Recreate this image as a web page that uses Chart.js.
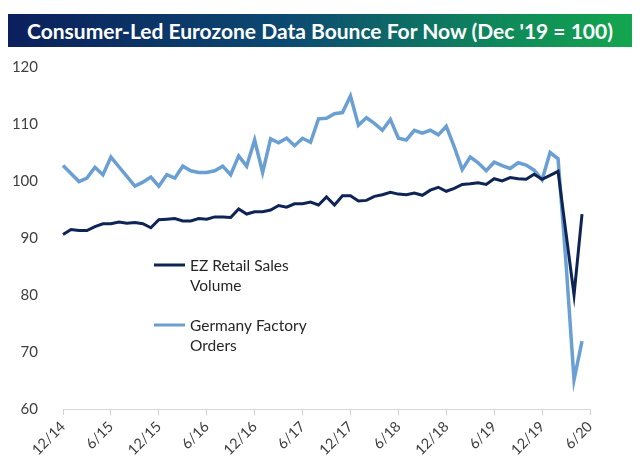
<!DOCTYPE html>
<html>
<head>
<meta charset="utf-8">
<script src="https://cdn.jsdelivr.net/npm/chart.js@4.4.1/dist/chart.umd.min.js"></script>
<style>
    body { margin: 0; background: #fff; width: 640px; height: 467px; overflow: hidden; position: relative; }
    #banner {
        position: absolute; left: 8px; top: 14px; width: 624px; height: 33px;
        background: linear-gradient(to right, #0b1f5c 0%, #0c4a72 45%, #0f8a5a 80%, #13a64e 100%);
        color: #fff; font-family: Lato, sans-serif; font-weight: bold; font-size: 21px;
        line-height: 33px; text-align: center; white-space: nowrap;
    }
    #holder { position: absolute; left: 0; top: 50px; width: 640px; height: 417px; }
</style>
</head>
<body>
<div id="banner">Consumer-Led Eurozone Data Bounce For Now (Dec '19 = 100)</div>
<div id="holder"><canvas id="chart"></canvas></div>
<script>
// months on the axis, 12/14 .. 6/20
var months = [
    '12/14',
    '1/15', '2/15', '3/15', '4/15', '5/15', '6/15', '7/15', '8/15', '9/15', '10/15', '11/15', '12/15',
    '1/16', '2/16', '3/16', '4/16', '5/16', '6/16', '7/16', '8/16', '9/16', '10/16', '11/16', '12/16',
    '1/17', '2/17', '3/17', '4/17', '5/17', '6/17', '7/17', '8/17', '9/17', '10/17', '11/17', '12/17',
    '1/18', '2/18', '3/18', '4/18', '5/18', '6/18', '7/18', '8/18', '9/18', '10/18', '11/18', '12/18',
    '1/19', '2/19', '3/19', '4/19', '5/19', '6/19', '7/19', '8/19', '9/19', '10/19', '11/19', '12/19',
    '1/20', '2/20', '3/20', '4/20', '5/20', '6/20'
];

var retailSales = [
    90.6, 91.5, 91.3, 91.3, 92.0, 92.5, 92.5, 92.8, 92.6, 92.7, 92.5, 91.8,
    93.2, 93.3, 93.4, 93.0, 93.0, 93.4, 93.3, 93.7, 93.7, 93.6, 95.1, 94.2,
    94.6, 94.6, 94.9, 95.7, 95.4, 96.0, 96.0, 96.3, 95.8, 97.2, 95.8, 97.4,
    97.4, 96.5, 96.6, 97.3, 97.6, 98.0, 97.7, 97.6, 97.9, 97.5, 98.4, 98.9,
    98.2, 98.7, 99.4, 99.5, 99.7, 99.4, 100.4, 100.0, 100.6, 100.4, 100.3, 101.2,
    100.3, 101.0, 101.7, 90.8, 80.0, 94.2
];

var factoryOrders = [
    102.7, 101.3, 99.9, 100.5, 102.4, 101.1, 104.2, 102.5, 100.8, 99.1, 99.8, 100.7,
    99.1, 101.1, 100.5, 102.6, 101.8, 101.5, 101.5, 101.8, 102.6, 101.1, 104.4, 102.6,
    107.2, 101.5, 107.4, 106.7, 107.5, 106.2, 107.5, 106.8, 110.9, 111.0, 111.8, 112.0,
    114.9, 109.8, 111.1, 110.1, 108.9, 110.8, 107.5, 107.2, 108.9, 108.4, 108.9, 108.1,
    109.6, 106.0, 102.0, 104.2, 103.2, 101.8, 103.3, 102.7, 102.2, 103.2, 102.8, 101.9,
    100.2, 105.0, 103.9, 85.5, 65.1, 71.9
];

var seriesNames = [['EZ Retail Sales', 'Volume'], ['Germany Factory', 'Orders']];
var yTicks = [60, 70, 80, 90, 100, 110, 120];

var darkBlue = '#0e2455';
var lightBlue = '#6a9fd3';

// legend sits inside the plot, left middle
var insideLegend = {
    id: 'insideLegend',
    afterDraw: function (chart) {
        var ctx = chart.ctx;
        var rows = [215, 275];
        ctx.save();
        ctx.font = '15.5px Lato, sans-serif';
        ctx.fillStyle = '#262626';
        ctx.textBaseline = 'middle';
        chart.data.datasets.forEach(function (ds, i) {
            var y = rows[i];
            ctx.strokeStyle = ds.borderColor;
            ctx.lineWidth = 3;
            ctx.beginPath();
            ctx.moveTo(154, y);
            ctx.lineTo(185, y);
            ctx.stroke();
            seriesNames[i].forEach(function (line, j) {
                ctx.fillText(line, 190, y + 1 + j * 20);
            });
        });
        ctx.restore();
    }
};

new Chart(document.getElementById('chart'), {
    type: 'line',
    data: {
        labels: months,
        datasets: [
            {
                label: seriesNames[0].join(' '),
                data: retailSales,
                borderColor: darkBlue,
                borderWidth: 3,
                pointRadius: 0,
                tension: 0
            },
            {
                label: seriesNames[1].join(' '),
                data: factoryOrders,
                borderColor: lightBlue,
                borderWidth: 3.5,
                pointRadius: 0,
                tension: 0
            }
        ]
    },
    options: {
        responsive: true,
        maintainAspectRatio: false,
        animation: false,
        layout: { padding: { top: 17, right: 50, left: 0, bottom: 0 } },
        plugins: {
            legend: { display: false },
            tooltip: { enabled: false }
        },
        scales: {
            y: {
                min: yTicks[0],
                max: yTicks[yTicks.length - 1],
                afterBuildTicks: function (scale) {
                    scale.ticks = yTicks.map(function (v) { return { value: v }; });
                },
                ticks: {
                    color: '#404040',
                    font: { family: 'Lato, sans-serif', size: 15 },
                    padding: 17
                },
                grid: { display: false },
                border: { display: false },
                afterFit: function (scale) {
                    scale.width = 63;
                    scale.paddingTop = 0;
                    scale.paddingBottom = 0;
                }
            },
            x: {
                offset: false,
                ticks: {
                    autoSkip: false,
                    maxRotation: 45,
                    minRotation: 45,
                    color: '#404040',
                    font: { family: 'Lato, sans-serif', size: 14.5 },
                    padding: 3,
                    callback: function (v, i) { return i % 6 === 0 ? months[i] : ''; }
                },
                grid: {
                    drawOnChartArea: false,
                    tickLength: 6,
                    color: function (c) { return c.index % 6 === 0 ? '#d0d0d0' : 'rgba(0,0,0,0)'; }
                },
                border: { color: '#d9d9d9', width: 1 },
                afterFit: function (scale) {
                    scale.height = 58;
                    scale.paddingTop = 0;
                }
            }
        }
    },
    plugins: [insideLegend]
});
</script>
</body>
</html>
